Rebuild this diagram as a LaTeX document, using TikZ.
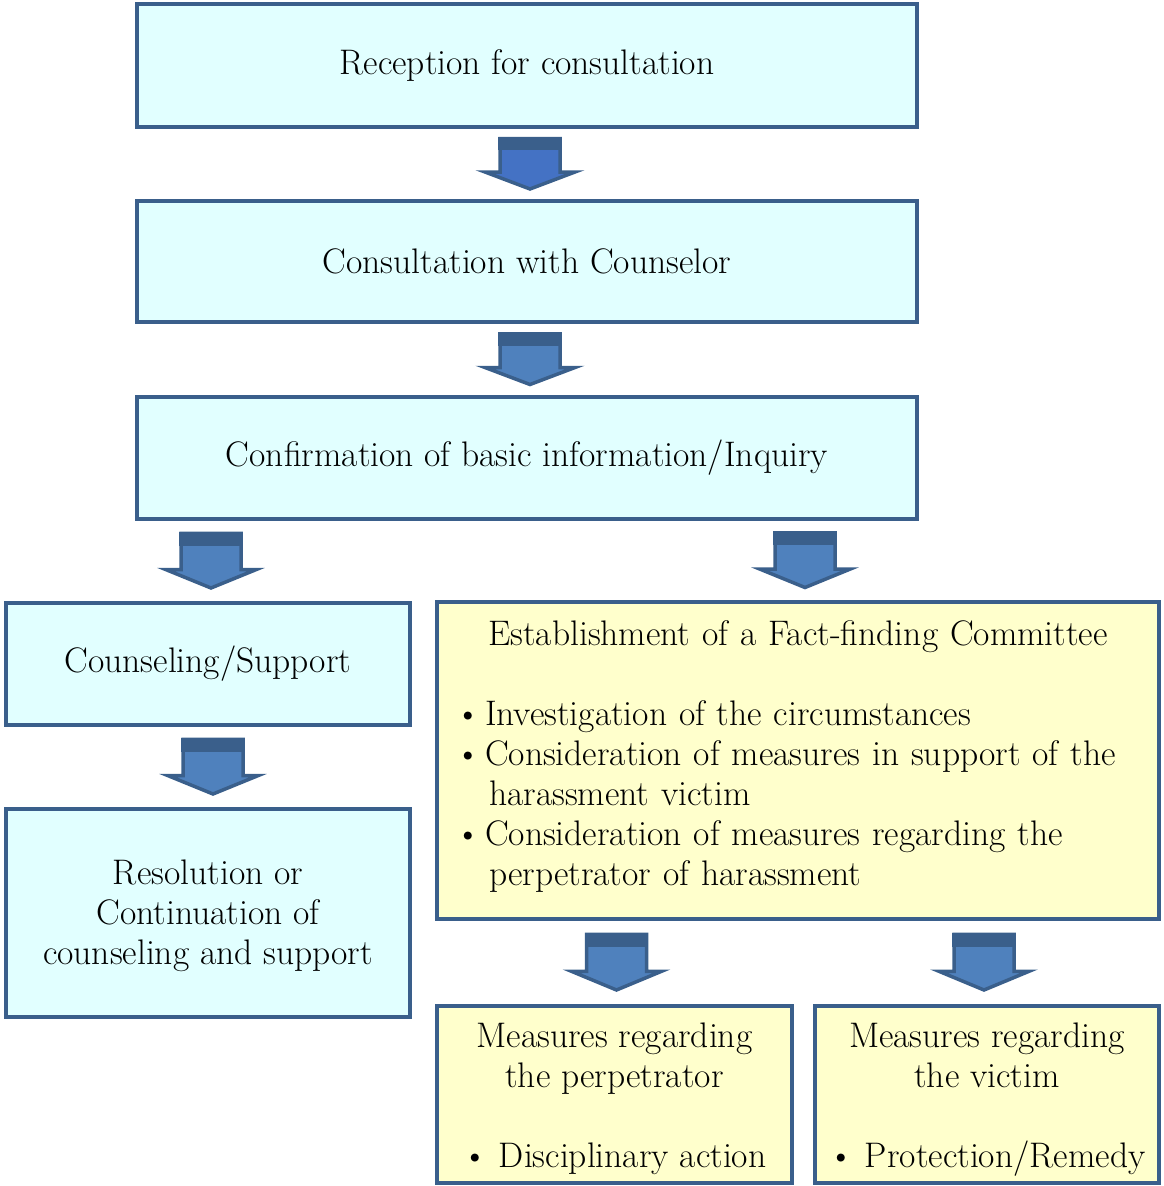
\documentclass[tikz,border=0pt]{standalone}
\usetikzlibrary{calc}
\definecolor{boxline}{HTML}{3A5F8B}
\definecolor{cyanfill}{HTML}{E1FFFF}
\definecolor{yelfill}{HTML}{FFFFCC}
\definecolor{arrfill}{HTML}{4F81BD}
\definecolor{arrfilltop}{HTML}{4472C4}
\newcommand\bitem[1]{\par\noindent\hangindent=36pt\hangafter=1\makebox[32pt][l]{\hspace{2pt}\textbullet}#1}
\tikzset{arrcol/.store in=\arrcol, arrcol=arrfill}
\begin{document}
\begin{tikzpicture}[x=1pt,y=-1pt,
  txt/.style={font=\fontsize{35.5pt}{40pt}\selectfont, text=black},
  cbox/.style={txt, draw=boxline, line width=4.5pt, fill=cyanfill, inner sep=0pt, align=center},
  ybox/.style={cbox, fill=yelfill},
  barrow/.pic={
    \filldraw[fill=\arrcol, draw=boxline, line width=3.5pt, line join=miter]
      (-30,-25.5) -- (30,-25.5) -- (30,8) -- (45,8) -- (0,25) -- (-45,8) -- (-30,8) -- cycle;
    \fill[boxline] (-31.75,-27.25) rectangle (31.75,-14);
  }]
\useasboundingbox (0,0) rectangle (1163,1186);

\node[cbox, minimum width=780, minimum height=123] (b1) at (527,65.5) {Reception for consultation};
\node[cbox, minimum width=780, minimum height=121] (b2) at (527,261.5) {Consultation with Counselor};
\node[cbox, minimum width=780, minimum height=122] (b3) at (527,458) {Confirmation of basic information/Inquiry};
\node[cbox, minimum width=404, minimum height=122] (b4) at (208,664) {Counseling/Support};
\node[cbox, minimum width=404, minimum height=208] (b5) at (208,913) {\rule{0pt}{30pt}Resolution or\\Continuation of\\counseling and support};
\node[ybox, text width=690pt, minimum width=722, minimum height=317] (b6) at (798,760.5)
  {\noindent\centering Establishment of a Fact-finding Committee\par\vspace{40pt}\raggedright
   \bitem{Investigation of the circumstances}
   \bitem{Consideration of measures in support of the harassment victim}
   \bitem{Consideration of measures regarding the perpetrator of harassment}\par\vspace{8pt}};
\node[ybox, minimum width=355, minimum height=177] (b7) at (614.5,1094.5)
  {\rule{0pt}{34pt}Measures regarding\\the perpetrator\\[40pt]\textbullet\ Disciplinary action};
\node[ybox, minimum width=344, minimum height=177] (b8) at (987,1094.5)
  {\rule{0pt}{34pt}Measures regarding\\the victim\\[40pt]\textbullet\ Protection/Remedy};

\path ($(b2.north)!0.5!(b2.north|-b1.south)$) pic[xshift=3, arrcol=arrfilltop] {barrow};
\path ($(b3.north)!0.5!(b3.north|-b2.south)$) pic[xshift=3] {barrow};
\path ($(b4.north)!0.5!(b4.north|-b3.south)$) pic[xshift=3, yscale=1.08] {barrow};
\path ($(b6.north)!0.5!(b6.north|-b3.south)$) pic[xshift=7, yscale=1.08] {barrow};
\path ($(b5.north)!0.5!(b5.north|-b4.south)$) pic[xshift=5, yscale=1.08] {barrow};
\path ($(b7.north)!0.5!(b7.north|-b6.south)$) pic[xshift=2, yscale=1.1] {barrow};
\path ($(b8.north)!0.5!(b8.north|-b6.south)$) pic[xshift=-3, yscale=1.1] {barrow};
\end{tikzpicture}
\end{document}
